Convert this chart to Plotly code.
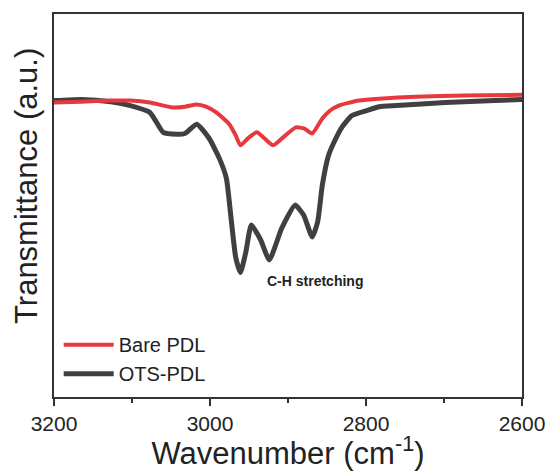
import plotly.graph_objects as go

# Wavenumber (cm^-1) and transmittance (a.u.)
bare_wn = [3200, 3165, 3127, 3102, 3077, 3048, 3032, 3017, 3005, 2992, 2976, 2967,
           2961, 2950, 2940, 2930, 2919, 2905, 2890, 2879, 2869, 2856, 2846, 2835,
           2809, 2783, 2736, 2673, 2600]
bare_t = [76.9, 77.1, 77.4, 77.4, 76.9, 75.6, 75.8, 76.4, 75.8, 74.3, 71.4, 68.3,
          65.7, 67.8, 69.1, 67.5, 65.7, 68.0, 70.4, 70.1, 68.8, 72.7, 74.8, 76.1,
          77.4, 77.9, 78.4, 78.7, 78.9]

ots_wn = [3200, 3165, 3127, 3102, 3077, 3060, 3042, 3032, 3017, 3001, 2988, 2979,
          2973, 2967, 2961, 2954, 2947, 2935, 2924, 2908, 2891, 2880, 2869, 2862,
          2856, 2848, 2841, 2831, 2818, 2799, 2783, 2761, 2698, 2635, 2600]
ots_t = [77.4, 77.7, 77.1, 76.1, 74.3, 69.1, 68.6, 68.8, 71.2, 67.5, 62.3, 57.1,
         46.7, 36.4, 32.5, 37.9, 44.9, 41.0, 35.8, 44.1, 50.1, 47.5, 41.8, 45.7,
         55.3, 63.1, 66.5, 70.4, 73.5, 74.8, 75.8, 76.1, 76.9, 77.4, 77.7]

x_ticks = [3200, 3000, 2800, 2600]
x_tick_labels = ["3200", "3000", "2800", "2600"]

FONT = "Arial, Liberation Sans, sans-serif"

fig = go.Figure()
fig.add_trace(go.Scatter(x=ots_wn, y=ots_t, mode="lines", name="OTS-PDL",
                         line=dict(color="#404040", width=5, shape="spline", smoothing=0.5)))
fig.add_trace(go.Scatter(x=bare_wn, y=bare_t, mode="lines", name="Bare PDL",
                         line=dict(color="#e8383d", width=4, shape="spline", smoothing=0.5)))

fig.add_annotation(x=2865, y=30.4, text="<b>C-H stretching</b>", showarrow=False,
                   font=dict(family=FONT, size=14, color="#222"))

# y-axis title placed as a rotated annotation
fig.add_annotation(xref="paper", yref="paper", x=0, y=0.551, xshift=-27,
                   xanchor="center", yanchor="middle", textangle=-90,
                   text="Transmittance (a.u.)", showarrow=False,
                   font=dict(family=FONT, size=31, color="#222"))

fig.update_layout(
    width=557, height=471,
    margin=dict(l=54, r=28, t=13, b=74),
    paper_bgcolor="white", plot_bgcolor="white",
    font=dict(family=FONT, color="#222"),
    showlegend=True,
    legend=dict(x=0.01, y=0.01, xanchor="left", yanchor="bottom",
                font=dict(family=FONT, size=20, color="#222"), traceorder="reversed",
                bgcolor="rgba(0,0,0,0)", tracegroupgap=0, itemwidth=50),
)
fig.update_xaxes(range=[3200, 2600], tickvals=x_ticks, ticktext=x_tick_labels,
                 showgrid=False, zeroline=False, showline=True, linecolor="#333",
                 linewidth=1.5, mirror=True, ticks="outside", ticklen=7, tickwidth=1.5,
                 tickcolor="#333", tickfont=dict(family=FONT, size=21, color="#222"),
                 minor=dict(dtick=100, ticks="outside", ticklen=4, tickwidth=1.5, tickcolor="#333"),
                 title=dict(text="Wavenumber (cm<sup>-1</sup>)",
                            font=dict(family=FONT, size=31, color="#222"), standoff=2))
fig.update_yaxes(range=[0, 100], showgrid=False, zeroline=False, showline=True,
                 linecolor="#333", linewidth=1.5, mirror=True, showticklabels=False,
                 ticks="")

fig.write_html("out.html", config={"displayModeBar": False},
               post_script="document.body.style.margin='0';")
